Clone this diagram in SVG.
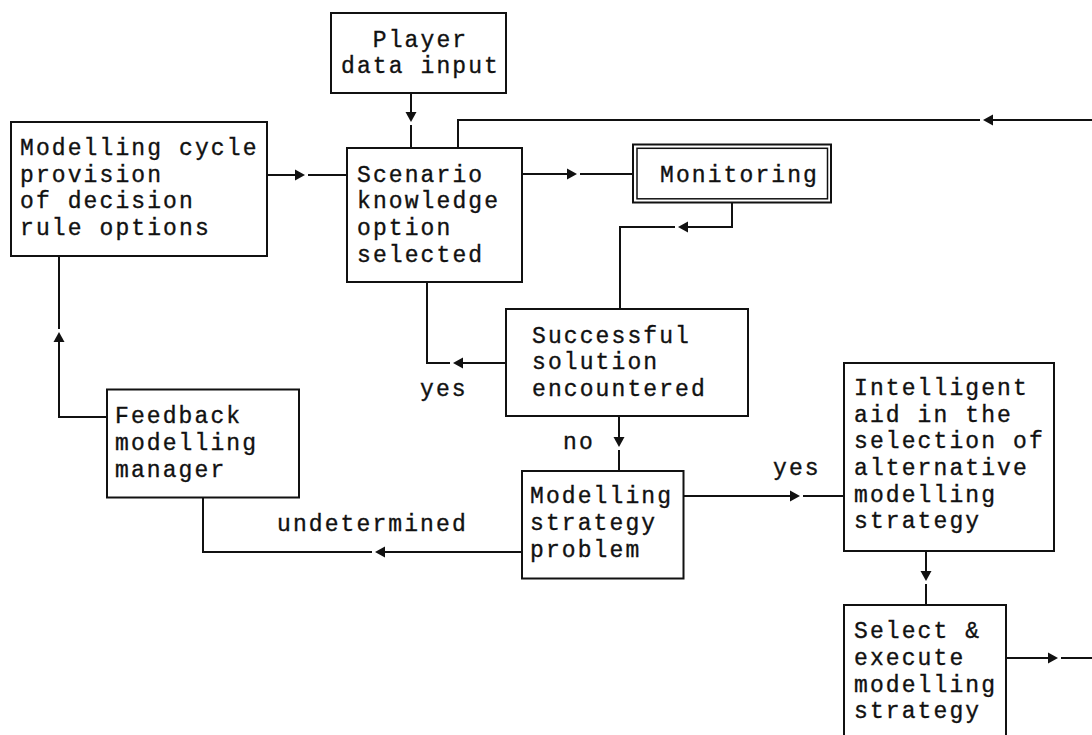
<svg xmlns="http://www.w3.org/2000/svg" xmlns:xlink="http://www.w3.org/1999/xlink" width="1092" height="735" viewBox="0 0 1092 735">
<style>
.box{fill:#fff;stroke:#111;stroke-width:2}
.thin{fill:none;stroke:#111;stroke-width:1.5}
.ln{fill:none;stroke:#111;stroke-width:2}
.t{font-family:"Liberation Mono","Courier New",monospace;font-size:23px;letter-spacing:2.1px;fill:#111;stroke:#111;stroke-width:0.35}
.ah{fill:#111}
</style>
<defs>
<path id="ah" class="ah" d="M0,0 L-10,-5.5 L-10,5.5 Z"/>
</defs>
<rect width="1092" height="735" fill="#fff"/>

<g id="connectors">
<!-- Modelling cycle -> Scenario -->
<path class="ln" d="M267,175 H296 M308,175 H347"/>
<use xlink:href="#ah" transform="translate(305,175)"/>
<!-- Player -> Scenario -->
<path class="ln" d="M411,93 V113 M411,125 V148"/>
<use xlink:href="#ah" transform="translate(411,122) rotate(90)"/>
<!-- Scenario -> Monitoring -->
<path class="ln" d="M522,174 H568 M580,174 H633"/>
<use xlink:href="#ah" transform="translate(577,174)"/>
<!-- top loop back into Scenario -->
<path class="ln" d="M458,148 V120 H980 M992,120 H1092"/>
<use xlink:href="#ah" transform="translate(983,120) rotate(180)"/>
<!-- Monitoring -> Successful -->
<path class="ln" d="M732,203 V227 H687 M675,227 H620 V309"/>
<use xlink:href="#ah" transform="translate(678,227) rotate(180)"/>
<!-- Successful -> Scenario (yes) -->
<path class="ln" d="M506,363 H462 M450,363 H427 V282"/>
<use xlink:href="#ah" transform="translate(453,363) rotate(180)"/>
<!-- Successful -> Modelling strategy (no) -->
<path class="ln" d="M619,416 V438 M619,450 V471"/>
<use xlink:href="#ah" transform="translate(619,447) rotate(90)"/>
<!-- Modelling strategy -> Intelligent (yes) -->
<path class="ln" d="M683,496 H791 M803,496 H844"/>
<use xlink:href="#ah" transform="translate(800,496)"/>
<!-- Modelling strategy -> Feedback (undetermined) -->
<path class="ln" d="M522,552 H384 M372,552 H203 V497"/>
<use xlink:href="#ah" transform="translate(375,552) rotate(180)"/>
<!-- Feedback -> Modelling cycle -->
<path class="ln" d="M107,417 H59 V341 M59,329 V256"/>
<use xlink:href="#ah" transform="translate(59,332) rotate(-90)"/>
<!-- Intelligent -> Select -->
<path class="ln" d="M926,551 V572 M926,584 V605"/>
<use xlink:href="#ah" transform="translate(926,581) rotate(90)"/>
<!-- Select -> out -->
<path class="ln" d="M1006,658 H1049 M1061,658 H1092"/>
<use xlink:href="#ah" transform="translate(1058,658)"/>
</g>

<g id="labels">
<text class="t" x="420" y="396">yes</text>
<text class="t" x="563" y="449">no</text>
<text class="t" x="277" y="531">undetermined</text>
<text class="t" x="773" y="475">yes</text>
</g>

<g id="player">
<rect class="box" x="331" y="13" width="175" height="80"/>
<text class="t" text-anchor="middle" x="420.5" y="46.7">Player</text>
<text class="t" text-anchor="middle" x="420.5" y="73.3">data input</text>
</g>

<g id="modelling-cycle">
<rect class="box" x="11" y="122" width="256" height="134"/>
<text class="t" x="20" y="155">Modelling cycle</text>
<text class="t" x="20" y="181.7">provision</text>
<text class="t" x="20" y="208.3">of decision</text>
<text class="t" x="20" y="235">rule options</text>
</g>

<g id="scenario">
<rect class="box" x="347" y="148" width="175" height="134"/>
<text class="t" x="357" y="181.7">Scenario</text>
<text class="t" x="357" y="208.3">knowledge</text>
<text class="t" x="357" y="235">option</text>
<text class="t" x="357" y="261.7">selected</text>
</g>

<g id="monitoring">
<rect class="box" x="633" y="144.5" width="198" height="58"/>
<rect class="thin" x="637" y="148.3" width="190.5" height="50.5"/>
<text class="t" x="660" y="181.7">Monitoring</text>
</g>

<g id="successful">
<rect class="box" x="506" y="309" width="242" height="107"/>
<text class="t" x="532" y="342.7">Successful</text>
<text class="t" x="532" y="369.3">solution</text>
<text class="t" x="532" y="396">encountered</text>
</g>

<g id="feedback">
<rect class="box" x="107" y="389.5" width="192" height="108"/>
<text class="t" x="115" y="423.3">Feedback</text>
<text class="t" x="115" y="450">modelling</text>
<text class="t" x="115" y="476.7">manager</text>
</g>

<g id="strategy-problem">
<rect class="box" x="522" y="471" width="161.5" height="107.5"/>
<text class="t" x="530" y="503.3">Modelling</text>
<text class="t" x="530" y="530">strategy</text>
<text class="t" x="530" y="556.7">problem</text>
</g>

<g id="intelligent-aid">
<rect class="box" x="844" y="363" width="210" height="188"/>
<text class="t" x="854" y="395">Intelligent</text>
<text class="t" x="854" y="421.7">aid in the</text>
<text class="t" x="854" y="448.3">selection of</text>
<text class="t" x="854" y="475">alternative</text>
<text class="t" x="854" y="501.7">modelling</text>
<text class="t" x="854" y="528.3">strategy</text>
</g>

<g id="select-execute">
<rect class="box" x="844" y="605" width="162" height="140"/>
<text class="t" x="854" y="638.3">Select &amp;</text>
<text class="t" x="854" y="665">execute</text>
<text class="t" x="854" y="691.7">modelling</text>
<text class="t" x="854" y="718.3">strategy</text>
</g>
</svg>
